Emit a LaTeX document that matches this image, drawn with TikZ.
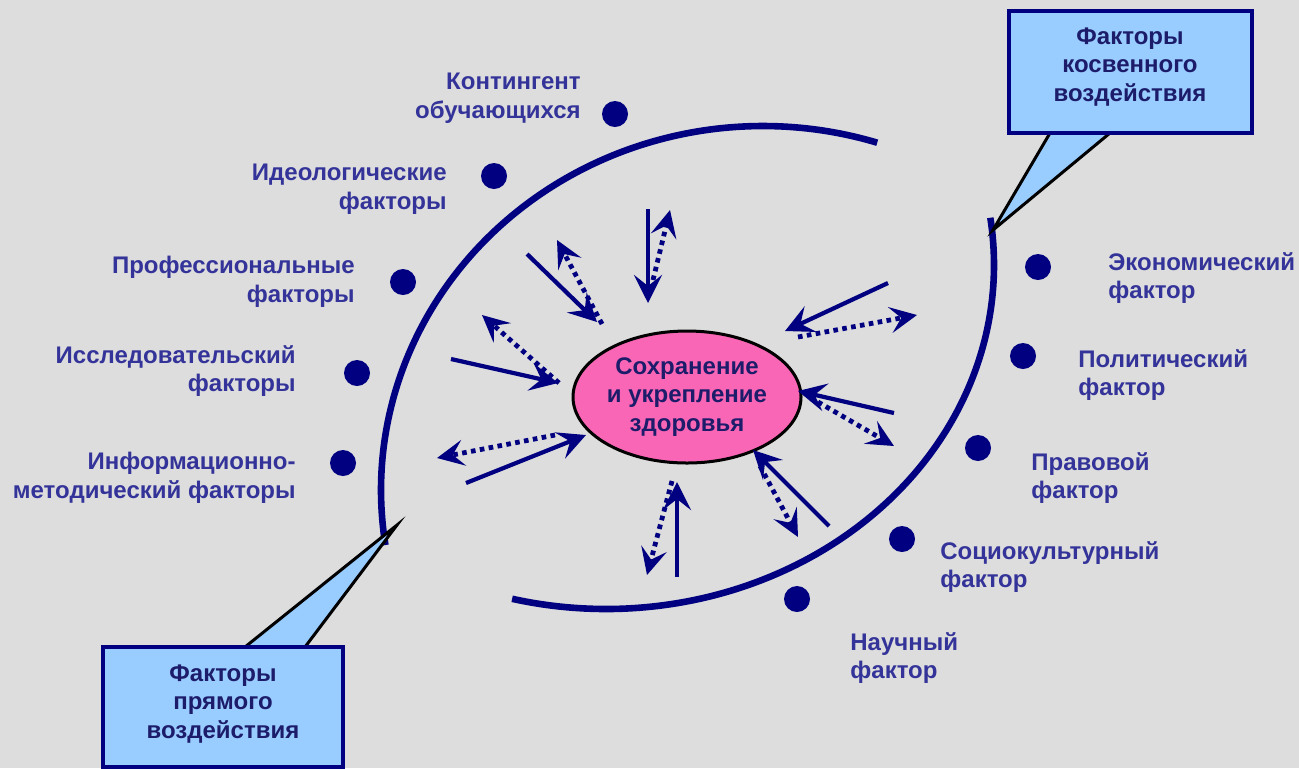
\documentclass[tikz,border=0pt]{standalone}
\usepackage{fontspec}
\setmainfont{Liberation Sans}
\usetikzlibrary{arrows.meta,shapes.geometric}
\definecolor{bgc}{HTML}{DDDDDD}
\definecolor{navy}{HTML}{000080}
\definecolor{lblc}{HTML}{333399}
\definecolor{darkc}{HTML}{1C1C6A}
\definecolor{pinkf}{HTML}{F966B5}
\definecolor{boxf}{HTML}{99CCFF}
\begin{document}
\begin{tikzpicture}[x=0.5pt,y=-0.5pt,
  lbl/.style={font=\bfseries\fontsize{12}{14.4}\selectfont, text=lblc, inner sep=0pt},
  lblL/.style={lbl, align=right, anchor=east},
  lblR/.style={lbl, align=left, anchor=west},
  dtext/.style={font=\bfseries\fontsize{12}{14.4}\selectfont, text=darkc, align=center, inner sep=0pt},
  dot/.style={circle, fill=navy, minimum size=13pt, inner sep=0pt},
  arcline/.style={draw=navy, line width=3.3pt},
  sol/.style={draw=navy, line width=2.1pt, -{Stealth[length=14pt,width=14pt,inset=5.5pt]}},
  dtd/.style={draw=navy, line width=2.4pt, dash pattern=on 2.3pt off 2.2pt, -{Stealth[length=13.5pt,width=13pt,inset=5.5pt]}},
  boxst/.style={draw=navy, line width=2pt, fill=boxf, inner sep=0pt},
  call/.style={fill=boxf, draw=black, line width=1.5pt}
]
\fill[bgc] (0,0) rectangle (1299,768);
\useasboundingbox (0,0) rectangle (1299,768);

% arcs (elliptic)
\draw[arcline] plot[domain=72.6:188.7, samples=120, smooth] ({763+382*cos(\x)}, {490-364*sin(\x)});
\draw[arcline] plot[domain=-104:7.9, samples=120, smooth] ({606+388*cos(\x)}, {265-344*sin(\x)});

% callouts
\coordinate (tk) at (993,230);
\coordinate (tp) at (397,525);
\coordinate (k1) at (1050,133);
\coordinate (k2) at (1110,133);
\coordinate (p1) at (245,647);
\coordinate (p2) at (305,647);
\filldraw[call] (k1) -- (tk) -- (k2);
\filldraw[call] (p1) -- (tp) -- (p2);

% boxes
\node[boxst, minimum width=121.5pt, minimum height=61pt] (bk) at (1130.5,72) {};
\node[dtext] (bkt) at (1130,67) {Факторы\\косвенного\\воздействия};
\node[boxst, minimum width=120pt, minimum height=60pt] (bp) at (223,707) {};
\node[dtext] (bpt) at (223,704) {Факторы\\прямого\\воздействия};

% central ellipse
\node[ellipse, draw=black, line width=1.5pt, fill=pinkf, minimum width=114pt, minimum height=66pt, inner sep=0pt, dtext] (c) at (687,397) {Сохранение\\и укрепление\\здоровья};

% arrows
\coordinate (a1s) at (648,209); \coordinate (a1e) at (648,303);
\coordinate (b1s) at (653,280); \coordinate (b1e) at (670,210);
\coordinate (a2s) at (527,254); \coordinate (a2e) at (597,322);
\coordinate (b2s) at (602,324); \coordinate (b2e) at (557,240);
\coordinate (a3s) at (451,359); \coordinate (a3e) at (558,383);
\coordinate (b3s) at (559,383); \coordinate (b3e) at (482,315);
\coordinate (a4s) at (466,483); \coordinate (a4e) at (586,435);
\coordinate (b4s) at (555,435); \coordinate (b4e) at (437,458);
\coordinate (a5s) at (677,577); \coordinate (a5e) at (677,482);
\coordinate (b5s) at (672,481); \coordinate (b5e) at (647,575);
\coordinate (a6s) at (829,526); \coordinate (a6e) at (753,450);
\coordinate (b6s) at (760,466); \coordinate (b6e) at (798,537);
\coordinate (a7s) at (894,413); \coordinate (a7e) at (798,391);
\coordinate (b7s) at (818,402); \coordinate (b7e) at (894,446);
\coordinate (a8s) at (888,283); \coordinate (a8e) at (785,331);
\coordinate (b8s) at (798,337); \coordinate (b8e) at (917,315);
\foreach \i in {1,...,8}{
  \draw[dtd] (b\i s) -- (b\i e);
  \draw[sol] (a\i s) -- (a\i e);
}

% dots
\node[dot] (d1) at (615,114) {};
\node[dot] (d2) at (494,176) {};
\node[dot] (d3) at (403,282) {};
\node[dot] (d4) at (357,373) {};
\node[dot] (d5) at (343,463) {};
\node[dot] (d6) at (1038,267) {};
\node[dot] (d7) at (1023,356) {};
\node[dot] (d8) at (978,448) {};
\node[dot] (d9) at (902,539) {};
\node[dot] (d10) at (797,599) {};

% labels
\node[lblL] (l1) at (581,98) {Контингент\\обучающихся};
\node[lblL] (l2) at (447,189) {Идеологические\\факторы};
\node[lblL] (l3) at (355,281.5) {Профессиональные\\факторы};
\node[lblL] (l4) at (296,371) {Исследовательский\\факторы};
\node[lblL] (l5) at (296,478) {Информационно-\\методический факторы};
\node[lblR] (r1) at (1108,278) {Экономический\\фактор};
\node[lblR] (r2) at (1078,375) {Политический\\фактор};
\node[lblR] (r3) at (1031,478) {Правовой\\фактор};
\node[lblR] (r4) at (940,567) {Социокультурный\\фактор};
\node[lblR] (r5) at (850,658) {Научный\\фактор};
\end{tikzpicture}
\end{document}
